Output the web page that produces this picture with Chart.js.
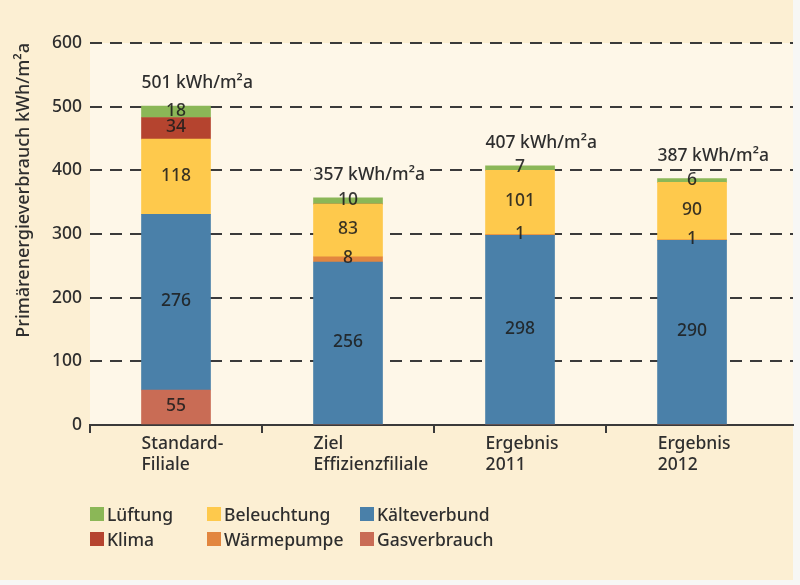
<!DOCTYPE html>
<html>
<head>
<meta charset="utf-8">
<script src="https://cdn.jsdelivr.net/npm/chart.js@4/dist/chart.umd.min.js"></script>
<style>
  html, body { margin: 0; padding: 0; background: #f7f7f5; }
  #wrap { position: relative; width: 800px; height: 585px; overflow: hidden; }
  #panel { position: absolute; left: 0; top: 0; width: 793px; height: 580px; background: #fcefd3; }
  #chart { position: absolute; left: 0; top: 0; }
  #legend { position: absolute; left: 90px; top: 501px; display: grid;
            grid-template-columns: 117px 153px auto; }
  .item { display: flex; align-items: center; height: 25px;
          font-family: 'Noto Sans', sans-serif; font-weight: 500; font-size: 17.5px; color: #2e2e2e; white-space: nowrap; }
  .box { width: 14px; height: 14px; margin-right: 3px; flex: none; }
</style>
</head>
<body>
<div id="wrap">
  <div id="panel"></div>
  <canvas id="chart" width="800" height="585"></canvas>
  <div id="legend"></div>
</div>
<script>
// ---- data ----
const categories = [['Standard-', 'Filiale'], ['Ziel', 'Effizienzfiliale'], ['Ergebnis', '2011'], ['Ergebnis', '2012']];
const gasverbrauch  = [55, 0, 0, 0];
const kaelteverbund = [276, 256, 298, 290];
const waermepumpe   = [0, 8, 1, 1];
const beleuchtung   = [118, 83, 101, 90];
const klima         = [34, 0, 0, 0];
const lueftung      = [18, 10, 7, 6];
const totals        = [501, 357, 407, 387];
const totalUnit     = ' kWh/m²a';
const yTitle        = 'Primärenergieverbrauch kWh/m²a';
const legendOrder   = ['Lüftung', 'Beleuchtung', 'Kälteverbund', 'Klima', 'Wärmepumpe', 'Gasverbrauch'];

// stacking order bottom -> top
const series = [
  { label: 'Gasverbrauch', values: gasverbrauch,  color: '#c96c55' },
  { label: 'Kälteverbund', values: kaelteverbund, color: '#4a80a9' },
  { label: 'Wärmepumpe',   values: waermepumpe,   color: '#e2863f' },
  { label: 'Beleuchtung',  values: beleuchtung,   color: '#fec94c' },
  { label: 'Klima',        values: klima,         color: '#b5442f' },
  { label: 'Lüftung',      values: lueftung,      color: '#8bb757' }
];

const FONT = "'Noto Sans', sans-serif";
const TEXT = '#2e2e2e';
const PLOT_BG = '#fef7e8';
const BAR_HALF_UNITS = 0.2; // half of the bar width in category units

const bgPlugin = {
  id: 'plotBg',
  beforeDraw(chart) {
    const { ctx, chartArea: a } = chart;
    ctx.save();
    ctx.fillStyle = PLOT_BG;
    ctx.fillRect(a.left, a.top, a.right - a.left, a.bottom - a.top);
    ctx.restore();
  }
};

const labelPlugin = {
  id: 'valueLabels',
  afterDatasetsDraw(chart) {
    const { ctx } = chart;
    const yScale = chart.scales.y;
    ctx.save();
    ctx.font = '500 17.5px ' + FONT;
    ctx.fillStyle = 'rgba(28,28,28,0.88)';
    ctx.textAlign = 'center';
    ctx.textBaseline = 'middle';
    chart.data.datasets.forEach((ds, di) => {
      const meta = chart.getDatasetMeta(di);
      meta.data.forEach((el, j) => {
        const v = ds.data[j].y;
        if (!v) return;
        ctx.fillText(String(v), el.x, (el.y + el.base) / 2 - 1);
      });
    });
    // totals above the bars, left aligned at the bar's left edge, masking grid lines
    const topMeta = chart.getDatasetMeta(chart.data.datasets.length - 1);
    ctx.textAlign = 'left';
    totals.forEach((t, j) => {
      const el = topMeta.data[j];
      const txt = t + totalUnit;
      const x = el.x - el.width / 2;
      const y = yScale.getPixelForValue(t) - 23;
      const w = ctx.measureText(txt).width;
      ctx.fillStyle = PLOT_BG;
      ctx.fillRect(x - 3, y - 10, w + 6, 20);
      ctx.fillStyle = TEXT;
      ctx.fillText(txt, x, y);
    });
    ctx.restore();
  }
};

const chart = new Chart(document.getElementById('chart'), {
  type: 'bar',
  data: {
    datasets: series.map(s => ({
      label: s.label,
      data: s.values.map((v, i) => ({ x: i, y: v })),
      backgroundColor: s.color,
      borderWidth: 0,
      barThickness: 69,
      stack: 'total'
    }))
  },
  options: {
    responsive: false,
    animation: false,
    layout: { padding: { left: 0, right: 7, top: 43, bottom: 0 } },
    plugins: { legend: { display: false }, tooltip: { enabled: false } },
    scales: {
      x: {
        type: 'linear',
        min: -0.5,
        max: 3.587,
        bounds: 'data',
        offset: false,
        afterBuildTicks(scale) {
          const t = [];
          categories.forEach((c, i) => {
            t.push({ value: i - 0.5, mark: true });
            t.push({ value: i - BAR_HALF_UNITS, lab: c });
          });
          scale.ticks = t;
        },
        afterFit(scale) { scale.height = 160; },
        grid: {
          display: true, offset: false, drawOnChartArea: false, drawTicks: true, tickLength: 8,
          lineWidth: 2,
          color: c => (c.tick && c.tick.mark) ? '#3a3a3a' : 'rgba(0,0,0,0)'
        },
        border: { display: true, color: '#3a3a3a', width: 2 },
        ticks: {
          autoSkip: false, align: 'start', padding: 1, maxRotation: 0, minRotation: 0,
          font: { family: FONT, size: 17.5, weight: 500 }, color: TEXT,
          callback: (v, i, ticks) => ticks[i].lab || ''
        }
      },
      y: {
        stacked: true,
        min: 0, max: 600,
        afterFit(scale) { scale.width = 90; },
        ticks: { stepSize: 100, padding: 8, font: { family: FONT, size: 17.5, weight: 500 }, color: TEXT },
        grid: {
          drawTicks: false, lineWidth: 2, borderDash: [12, 8],
          color: c => (c.tick && c.tick.value === 0) ? 'rgba(0,0,0,0)' : '#3a3a3a'
        },
        border: { display: false, dash: [12, 8] },
        title: {
          display: true, text: yTitle, align: 'end',
          font: { family: FONT, size: 18, weight: 500 }, color: TEXT,
          padding: { top: 13, bottom: 0 }
        }
      }
    }
  },
  plugins: [bgPlugin, labelPlugin]
});

// HTML legend built from the chart's datasets
const legendEl = document.getElementById('legend');
legendOrder.forEach(name => {
  const ds = chart.data.datasets.find(d => d.label === name);
  const item = document.createElement('div');
  item.className = 'item';
  const box = document.createElement('span');
  box.className = 'box';
  box.style.background = ds.backgroundColor;
  const txt = document.createElement('span');
  txt.textContent = ds.label;
  item.appendChild(box);
  item.appendChild(txt);
  legendEl.appendChild(item);
});
</script>
</body>
</html>
